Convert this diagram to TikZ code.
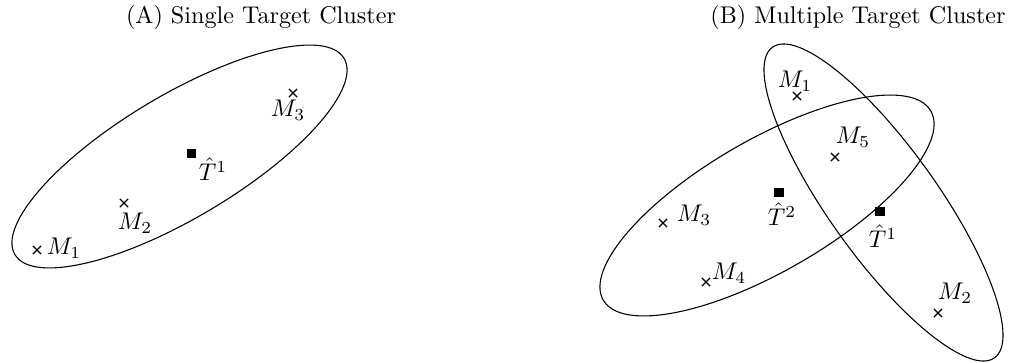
\documentclass[tikz,border=0pt]{standalone}
\usetikzlibrary{shapes.misc}
\begin{document}
\begin{tikzpicture}[x=0.414pt,y=-0.414pt,
  xmark/.style={cross out,draw,line width=0.5pt,minimum size=2.9pt,inner sep=0pt},
  sqmark/.style={fill=black,minimum size=3.8pt,inner sep=0pt},
  lbl/.style={inner sep=0pt},
  ttl/.style={inner sep=0pt},
  clus/.style={line width=0.45pt}]
\useasboundingbox (0,0) rectangle (1010,363);
% Panel A
\node[ttl] (ta) at (261,17) {(A) Single Target Cluster};
\draw[clus,rotate around={30.8:(179.5,156.5)}] (179.5,156.5) ellipse [x radius=191.6, y radius=61.5];
\node[xmark] (a1) at (37,250) {};
\node[lbl] (la1) at (64,248) {$M_1$};
\node[xmark] (a2) at (124,203) {};
\node[lbl] (la2) at (135,223) {$M_2$};
\node[xmark] (a3) at (293,93) {};
\node[lbl] (la3) at (288,110) {$M_3$};
\node[sqmark] (at1) at (191.5,153.5) {};
\node[lbl] (lat1) at (213,169.5) {$\hat{T}^1$};
% Panel B
\node[ttl] (tb) at (858,17) {(B) Multiple Target Cluster};
\draw[clus,rotate around={-54.45:(883.5,202.5)}] (883.5,202.5) ellipse [x radius=190.9, y radius=54.4];
\draw[clus,rotate around={30:(767,205.5)}] (767,205.5) ellipse [x radius=189.1, y radius=65.9];
\node[xmark] (b1) at (797,96) {};
\node[lbl] (lb1) at (795,81) {$M_1$};
\node[xmark] (b5) at (835,157) {};
\node[lbl] (lb5) at (853,137) {$M_5$};
\node[sqmark] (bt2) at (779,192.5) {};
\node[lbl] (lbt2) at (782,214.5) {$\hat{T}^2$};
\node[sqmark] (bt1) at (880,211.5) {};
\node[lbl] (lbt1) at (883,236.5) {$\hat{T}^1$};
\node[xmark] (b3) at (663,223) {};
\node[lbl] (lb3) at (694,215) {$M_3$};
\node[xmark] (b4) at (706,282) {};
\node[lbl] (lb4) at (729,273) {$M_4$};
\node[xmark] (b2) at (938,313) {};
\node[lbl] (lb2) at (955,293) {$M_2$};
\end{tikzpicture}
\end{document}
